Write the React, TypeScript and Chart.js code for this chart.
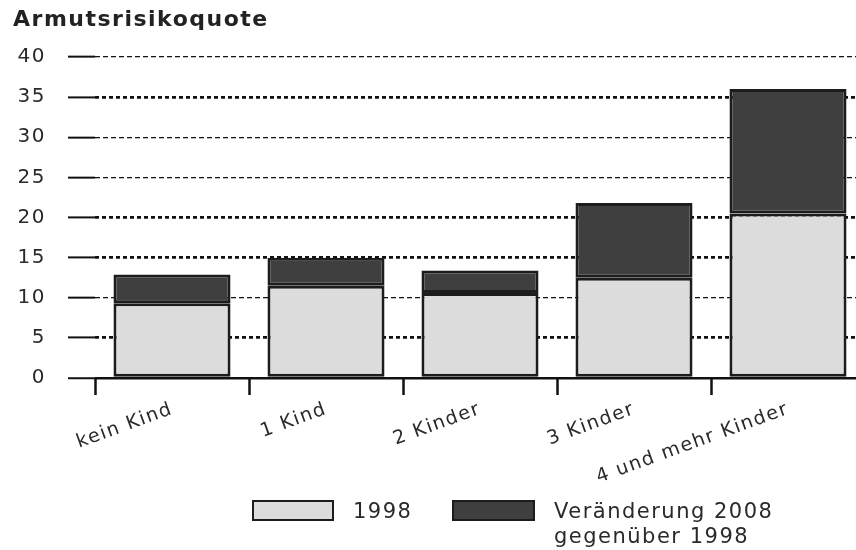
import React, { useEffect, useRef } from 'react';
import { Chart, registerables } from 'chart.js';

Chart.register(...registerables);

const titleText = 'Armutsrisikoquote';
const categories = ['kein Kind', '1 Kind', '2 Kinder', '3 Kinder', '4 und mehr Kinder'];
const values1998 = [9.3, 11.5, 10.6, 12.5, 20.5];
const change2008 = [3.6, 3.5, 2.8, 9.3, 15.5];
const seriesLabels = ['1998', 'Veränderung 2008', 'gegenüber 1998'];
const yMin = 0;
const yMax = 40;
const yStep = 5;

const HEAVY = new Set([5, 15, 20, 35]);
const FONT = "'DejaVu Sans', sans-serif";
const SPACING = '1.5px';

const spacingPlugin = {
  id: 'letterSpacing',
  beforeLayout(chart: any) {
    chart.ctx.letterSpacing = SPACING;
  },
  beforeDraw(chart: any) {
    chart.ctx.letterSpacing = SPACING;
  },
};

export default function App() {
  const ref = useRef<HTMLCanvasElement>(null);

  useEffect(() => {
    const chart = new Chart(ref.current as HTMLCanvasElement, {
      type: 'bar',
      data: {
        labels: categories,
        datasets: [
          {
            label: seriesLabels[0],
            data: values1998,
            backgroundColor: '#dcdcdc',
            borderColor: '#1c1c1c',
            borderWidth: 3,
            borderSkipped: false,
            barPercentage: 0.76,
            categoryPercentage: 1,
          },
          {
            label: seriesLabels[1] + ' ' + seriesLabels[2],
            data: change2008,
            backgroundColor: '#3f3f3f',
            borderColor: '#1c1c1c',
            borderWidth: 3,
            borderSkipped: false,
            barPercentage: 0.76,
            categoryPercentage: 1,
          },
        ],
      },
      plugins: [spacingPlugin],
      options: {
        responsive: false,
        animation: false,
        layout: { padding: { left: 13, right: 10, top: 0, bottom: 0 } },
        plugins: {
          legend: { display: false },
          tooltip: { enabled: false },
          title: {
            display: true,
            text: titleText,
            align: 'start',
            color: '#222',
            font: { family: FONT, size: 22, weight: 'bold', lineHeight: 1.2 },
            padding: { top: 7, bottom: 23.6 },
          },
        },
        scales: {
          x: {
            stacked: true,
            offset: true,
            grid: {
              offset: true,
              drawOnChartArea: false,
              drawTicks: true,
              tickLength: 17,
              tickWidth: 2.5,
              tickColor: '#111',
            },
            border: { display: false },
            ticks: {
              autoSkip: false,
              minRotation: 20,
              maxRotation: 20,
              padding: 3,
              color: '#2a2a2a',
              font: { family: FONT, size: 19 },
            },
            afterFit(scale: any) {
              scale.height = 172;
            },
          },
          y: {
            stacked: true,
            min: yMin,
            max: yMax,
            border: {
              display: false,
              dash: (ctx: any) => {
                const v = ctx.tick ? ctx.tick.value : 0;
                if (v === 0) return [];
                return HEAVY.has(v) ? [4, 3] : [5, 3];
              },
            },
            grid: {
              color: '#111',
              lineWidth: (ctx: any) => {
                const v = ctx.tick ? ctx.tick.value : 0;
                if (v === 0) return 2.5;
                return HEAVY.has(v) ? 2.8 : 1.3;
              },
              drawTicks: true,
              tickLength: 27,
              tickWidth: 2,
              tickColor: '#111',
              tickBorderDash: [],
            },
            ticks: {
              stepSize: yStep,
              padding: 22,
              color: '#2a2a2a',
              font: { family: FONT, size: 20 },
            },
            afterFit(scale: any) {
              scale.width = 82;
            },
          },
        },
      } as any,
    });
    return () => chart.destroy();
  }, []);

  const textStyle: React.CSSProperties = {
    position: 'absolute',
    fontFamily: FONT,
    fontSize: 21,
    letterSpacing: SPACING,
    color: '#2a2a2a',
    lineHeight: '25px',
    whiteSpace: 'nowrap',
  };

  return (
    <div
      style={{
        position: 'absolute',
        left: 0,
        top: 0,
        width: 856,
        height: 550,
        overflow: 'hidden',
        background: '#fff',
      }}
    >
      <canvas ref={ref} width={875} height={550} style={{ position: 'absolute', left: 0, top: 0 }} />
      <div
        style={{
          position: 'absolute',
          left: 252,
          top: 500,
          width: 82,
          height: 21,
          boxSizing: 'border-box',
          background: '#dcdcdc',
          border: '2px solid #1c1c1c',
        }}
      />
      <div style={{ ...textStyle, left: 353, top: 499 }}>{seriesLabels[0]}</div>
      <div
        style={{
          position: 'absolute',
          left: 452,
          top: 500,
          width: 83,
          height: 21,
          boxSizing: 'border-box',
          background: '#3f3f3f',
          border: '2px solid #1c1c1c',
        }}
      />
      <div style={{ ...textStyle, left: 554, top: 499 }}>
        {seriesLabels[1]}
        <br />
        {seriesLabels[2]}
      </div>
    </div>
  );
}
